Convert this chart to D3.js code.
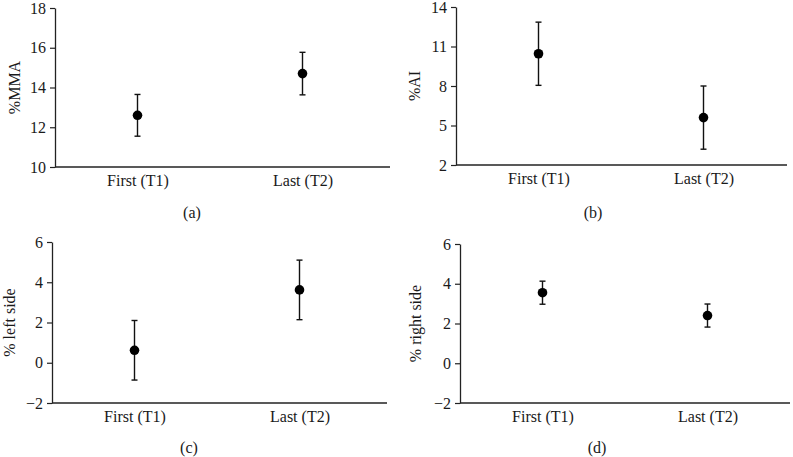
<!DOCTYPE html>
<html><head><meta charset="utf-8">
<script src="https://cdn.jsdelivr.net/npm/d3@7"></script>
<style>body{margin:0;background:#fff}svg{display:block}text{font-family:"Liberation Serif","Times New Roman",serif;fill:#1a1a1a}</style>
</head><body>
<script>
const categories = ["First (T1)", "Last (T2)"];
const mmaMean = [12.6, 14.7];
const mmaErr = [1.05, 1.07];
const aiMean = [10.45, 5.6];
const aiErr = [2.4, 2.4];
const leftMean = [0.62, 3.62];
const leftErr = [1.48, 1.48];
const rightMean = [3.55, 2.4];
const rightErr = [0.58, 0.58];
const mmaTicks = [10, 12, 14, 16, 18];
const aiTicks = [2, 5, 8, 11, 14];
const sideTicks = [-2, 0, 2, 4, 6];

const panels = [
  {mean: mmaMean, err: mmaErr, ticks: mmaTicks, ylabel: "%MMA", tag: "(a)", left: 55, top: 8, bottom: 167, right: 390, ylx: 14, tagY: 218},
  {mean: aiMean, err: aiErr, ticks: aiTicks, ylabel: "%AI", tag: "(b)", left: 456, top: 7, bottom: 165, right: 787, ylx: 414, tagY: 218},
  {mean: leftMean, err: leftErr, ticks: sideTicks, ylabel: "% left side", tag: "(c)", left: 52, top: 242, bottom: 403, right: 387, ylx: 9, tagY: 453},
  {mean: rightMean, err: rightErr, ticks: sideTicks, ylabel: "% right side", tag: "(d)", left: 460, top: 244, bottom: 403, right: 790, ylx: 415, tagY: 453}
];

const FS = "16px";
const svg = d3.select("body").append("svg").attr("width", 793).attr("height", 457);

panels.forEach(p => {
  const g = svg.append("g");
  const y = d3.scaleLinear().domain(d3.extent(p.ticks)).range([p.bottom, p.top]);
  const x = d3.scalePoint().domain(categories).range([p.left, p.left + 330]).padding(0.5);

  const ya = g.append("g").attr("transform", `translate(${p.left},0)`)
    .call(d3.axisLeft(y).tickValues(p.ticks).tickSize(5).tickPadding(4).tickSizeOuter(0).tickFormat(d => d < 0 ? "\u2212" + Math.abs(d) : d));
  ya.select(".domain").attr("stroke", "#222").attr("stroke-width", 1.3);
  ya.selectAll(".tick line").attr("stroke", "#222").attr("stroke-width", 1.2);
  ya.selectAll("text").style("font-size", FS).attr("fill", "#1a1a1a");

  const xa = g.append("g").attr("transform", `translate(0,${p.bottom})`)
    .call(d3.axisBottom(x).tickSize(0).tickPadding(8));
  xa.select(".domain").remove();
  xa.selectAll("text").style("font-size", FS).attr("fill", "#1a1a1a");
  g.append("line").attr("x1", p.left).attr("x2", p.right).attr("y1", p.bottom).attr("y2", p.bottom)
    .attr("stroke", "#222").attr("stroke-width", 1.3);

  const data = categories.map((c, i) => ({c, m: p.mean[i], e: p.err[i]}));
  const eb = g.selectAll(".eb").data(data).enter().append("g");
  eb.append("line").attr("x1", d => x(d.c)).attr("x2", d => x(d.c))
    .attr("y1", d => y(d.m - d.e)).attr("y2", d => y(d.m + d.e)).attr("stroke", "#111").attr("stroke-width", 1.4);
  [-1, 1].forEach(s => {
    eb.append("line").attr("x1", d => x(d.c) - 3).attr("x2", d => x(d.c) + 3)
      .attr("y1", d => y(d.m + s * d.e)).attr("y2", d => y(d.m + s * d.e)).attr("stroke", "#111").attr("stroke-width", 1.4);
  });
  eb.append("circle").attr("cx", d => x(d.c)).attr("cy", d => y(d.m)).attr("r", 4.8).attr("fill", "#000");

  g.append("text").attr("transform", `translate(${p.ylx},${(p.top + p.bottom) / 2}) rotate(-90)`)
    .attr("text-anchor", "middle").attr("dy", "0.35em").style("font-size", FS).text(p.ylabel);
  g.append("text").attr("x", p.left + 137).attr("y", p.tagY).attr("text-anchor", "middle")
    .style("font-size", FS).text(p.tag);
});
</script>
</body></html>
